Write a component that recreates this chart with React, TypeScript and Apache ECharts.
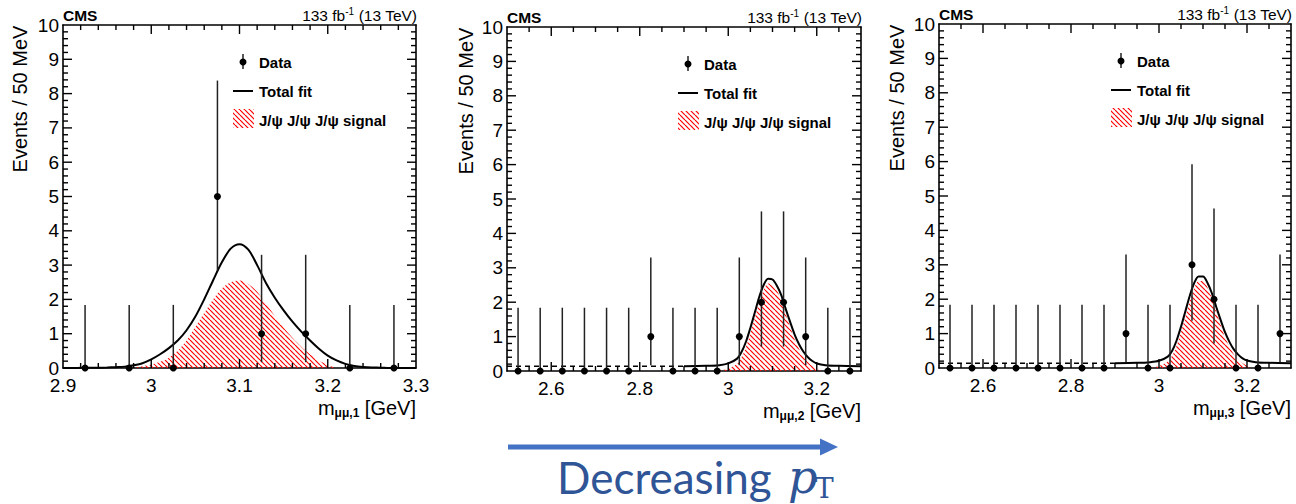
import React, { useEffect, useRef } from "react";
import * as echarts from "echarts";

const FONT = "'Liberation Sans', Arial, Helvetica, sans-serif";

// ---------- Panel 1 (m_{μμ,1}) ----------
const bins1 = [2.925, 2.975, 3.025, 3.075, 3.125, 3.175, 3.225, 3.275];
const counts1 = [0, 0, 0, 5, 1, 1, 0, 0];
const errLo1 = [0, 0, 0, 2.84, 0.17, 0.17, 0, 0];
const errHi1 = [1.84, 1.84, 1.84, 8.38, 3.3, 3.3, 1.84, 1.84];
const fitX1 = [2.9, 2.91, 2.92, 2.93, 2.94, 2.95, 2.96, 2.97, 2.98, 2.99, 3.0, 3.01, 3.02, 3.03, 3.04, 3.05, 3.06, 3.07, 3.08, 3.09, 3.1, 3.11, 3.12, 3.13, 3.14, 3.15, 3.16, 3.17, 3.18, 3.19, 3.2, 3.21, 3.22, 3.23, 3.24, 3.25, 3.26, 3.27, 3.3];
const fitY1 = [0, 0, 0.005, 0.01, 0.01, 0.015, 0.025, 0.04, 0.08, 0.14, 0.25, 0.4, 0.58, 0.8, 1.1, 1.5, 2.0, 2.55, 3.08, 3.48, 3.61, 3.45, 3.0, 2.48, 2.05, 1.68, 1.35, 1.06, 0.8, 0.56, 0.36, 0.22, 0.12, 0.06, 0.03, 0.015, 0.01, 0, 0];
const sigX1 = [2.98, 2.99, 3.0, 3.01, 3.02, 3.03, 3.04, 3.05, 3.06, 3.07, 3.08, 3.09, 3.1, 3.11, 3.12, 3.13, 3.14, 3.15, 3.16, 3.17, 3.18, 3.19, 3.2, 3.21];
const sigY1 = [0, 0.05, 0.1, 0.18, 0.3, 0.5, 0.8, 1.2, 1.6, 2.0, 2.32, 2.5, 2.55, 2.45, 2.22, 1.88, 1.52, 1.18, 0.88, 0.62, 0.4, 0.22, 0.09, 0];

// ---------- Panel 2 (m_{μμ,2}) ----------
const bins23 = [2.525, 2.575, 2.625, 2.675, 2.725, 2.775, 2.825, 2.875, 2.925, 2.975, 3.025, 3.075, 3.125, 3.175, 3.225, 3.275];
const counts2 = [0, 0, 0, 0, 0, 0, 1, 0, 0, 0, 1, 2, 2, 1, 0, 0];
const errLo2 = [0, 0, 0, 0, 0, 0, 0.17, 0, 0, 0, 0.17, 0.71, 0.71, 0.17, 0, 0];
const errHi2 = [1.84, 1.84, 1.84, 1.84, 1.84, 1.84, 3.3, 1.84, 1.84, 1.84, 3.3, 4.64, 4.64, 3.3, 1.84, 1.84];
const fitX23 = [2.9, 2.95, 2.98, 3.0, 3.02, 3.03, 3.04, 3.05, 3.06, 3.07, 3.08, 3.09, 3.1, 3.11, 3.12, 3.13, 3.14, 3.15, 3.16, 3.17, 3.18, 3.19, 3.2, 3.22, 3.25, 3.3];
const fitY2 = [0.14, 0.15, 0.17, 0.22, 0.36, 0.55, 0.85, 1.25, 1.7, 2.15, 2.5, 2.68, 2.66, 2.48, 2.2, 1.8, 1.42, 1.06, 0.78, 0.56, 0.4, 0.29, 0.22, 0.17, 0.15, 0.14];
const sigX23 = [2.98, 3.0, 3.02, 3.03, 3.04, 3.05, 3.06, 3.07, 3.08, 3.09, 3.1, 3.11, 3.12, 3.13, 3.14, 3.15, 3.16, 3.17, 3.18, 3.19, 3.2, 3.21];
const sigY2 = [0, 0.07, 0.21, 0.4, 0.7, 1.1, 1.55, 2.0, 2.35, 2.54, 2.52, 2.34, 2.06, 1.66, 1.28, 0.92, 0.64, 0.42, 0.26, 0.15, 0.08, 0];
const bkgX = [2.5, 2.9];
const bkgY2 = [0.14, 0.14];

// ---------- Panel 3 (m_{μμ,3}) ----------
const counts3 = [0, 0, 0, 0, 0, 0, 0, 0, 1, 0, 0, 3, 2, 0, 0, 1];
const errLo3 = [0, 0, 0, 0, 0, 0, 0, 0, 0.17, 0, 0, 1.37, 0.71, 0, 0, 0.17];
const errHi3 = [1.84, 1.84, 1.84, 1.84, 1.84, 1.84, 1.84, 1.84, 3.3, 1.84, 1.84, 5.92, 4.64, 1.84, 1.84, 3.3];
const fitY3 = [0.14, 0.15, 0.17, 0.21, 0.33, 0.5, 0.8, 1.2, 1.65, 2.1, 2.47, 2.66, 2.66, 2.48, 2.18, 1.78, 1.4, 1.04, 0.76, 0.54, 0.39, 0.28, 0.22, 0.17, 0.15, 0.14];
const sigY3 = [0, 0.06, 0.19, 0.36, 0.65, 1.05, 1.5, 1.95, 2.32, 2.53, 2.53, 2.35, 2.04, 1.64, 1.26, 0.9, 0.62, 0.4, 0.25, 0.14, 0.07, 0];
const bkgY3 = [0.14, 0.14];

// tick values
const xMajor1 = [2.9, 3.0, 3.1, 3.2, 3.3];
const xMajor23 = [2.6, 2.8, 3.0, 3.2];
const yMajor = [0, 1, 2, 3, 4, 5, 6, 7, 8, 9, 10];

const legendLabels = ["Data", "Total fit", "J/ψ J/ψ J/ψ signal"];

const fmt = (v: number) => String(Math.round(v * 10) / 10);

function makeHatch() {
  const s = 5;
  const c = document.createElement("canvas");
  c.width = s;
  c.height = s;
  const ctx = c.getContext("2d")!;
  ctx.strokeStyle = "#ff0000";
  ctx.lineWidth = 1.2;
  for (const k of [-s, 0, s]) {
    ctx.beginPath();
    ctx.moveTo(k, 0);
    ctx.lineTo(k + s, s);
    ctx.stroke();
  }
  return { image: c, repeat: "repeat", imageWidth: s, imageHeight: s } as any;
}

export default function App() {
  const ref = useRef<HTMLDivElement>(null);

  useEffect(() => {
    if (!ref.current) return;
    const chart = echarts.init(ref.current, null, { renderer: "svg" });
    const hatch = makeHatch();

    const panels = [
      { left: 63, top: 25, width: 353, height: 343, min: 2.9, max: 3.3, major: xMajor1, minorStep: 0.02, bins: bins1, counts: counts1, lo: errLo1, hi: errHi1, fitX: fitX1, fitY: fitY1, sigX: sigX1, sigY: sigY1, bkgY: null as number[] | null, sub: "1", titleX: 20, legX: 243 },
      { left: 507, top: 27, width: 354, height: 344, min: 2.5, max: 3.3, major: xMajor23, minorStep: 0.05, bins: bins23, counts: counts2, lo: errLo2, hi: errHi2, fitX: fitX23, fitY: fitY2, sigX: sigX23, sigY: sigY2, bkgY: bkgY2, sub: "2", titleX: 466, legX: 688 },
      { left: 939, top: 24, width: 352, height: 344, min: 2.5, max: 3.3, major: xMajor23, minorStep: 0.05, bins: bins23, counts: counts3, lo: errLo3, hi: errHi3, fitX: fitX23, fitY: fitY3, sigX: sigX23, sigY: sigY3, bkgY: bkgY3, sub: "3", titleX: 897, legX: 1121 },
    ];

    const axisLine = { show: true, onZero: false, lineStyle: { color: "#000", width: 1.6 } };
    const labelStyle = { color: "#000", fontSize: 19, fontFamily: FONT };

    const grids: any[] = [];
    const xAxes: any[] = [];
    const yAxes: any[] = [];
    const series: any[] = [];
    const graphics: any[] = [];

    panels.forEach((p, i) => {
      grids.push({ left: p.left, top: p.top, width: p.width, height: p.height, containLabel: false });
      const mainX = xAxes.length;
      for (const pos of ["bottom", "top"]) {
        xAxes.push({
          gridIndex: i, type: "value", position: pos, min: p.min, max: p.max, interval: 0.1,
          axisLine, splitLine: { show: false }, axisTick: { show: false }, minorTick: { show: false },
          axisLabel: { show: pos === "bottom", ...labelStyle, margin: 8, customValues: p.major, formatter: fmt },
        });
      }
      const mainY = yAxes.length;
      for (const pos of ["left", "right"]) {
        yAxes.push({
          gridIndex: i, type: "value", position: pos, min: 0, max: 10, interval: 1,
          axisLine, splitLine: { show: false }, axisTick: { show: false }, minorTick: { show: false },
          axisLabel: { show: pos === "left", ...labelStyle, margin: 4, showMinLabel: true, showMaxLabel: true },
        });
      }

      // inside ticks on all four sides (ROOT style): [x, y, dx, dy]
      const tickData: number[][] = [];
      const nMinor = Math.round((p.max - p.min) / p.minorStep);
      for (let k = 1; k < nMinor; k++) {
        const x = p.min + k * p.minorStep;
        const len = p.major.some((m) => Math.abs(m - x) < 1e-6) ? 9 : 5;
        tickData.push([x, 0, 0, -len]);
        tickData.push([x, 10, 0, len]);
      }
      yMajor.forEach((y, k) => {
        if (k > 0 && k < yMajor.length - 1) {
          tickData.push([p.min, y, 9, 0]);
          tickData.push([p.max, y, -9, 0]);
        }
        if (k < yMajor.length - 1) {
          for (let m = 1; m < 5; m++) {
            tickData.push([p.min, y + m * 0.2, 5, 0]);
            tickData.push([p.max, y + m * 0.2, -5, 0]);
          }
        }
      });
      series.push({
        type: "custom", xAxisIndex: mainX, yAxisIndex: mainY, z: 6, clip: false, silent: true,
        data: tickData.map((t) => [t[0], t[1], t[2], t[3]]),
        renderItem: (_params: any, api: any) => {
          const c = api.coord([api.value(0), api.value(1)]);
          const dx = Number(api.value(2)) || 0;
          const dy = Number(api.value(3)) || 0;
          return {
            type: "group",
            children: [
              {
                type: "line",
                shape: { x1: c[0], y1: c[1], x2: c[0] + dx, y2: c[1] + dy },
                style: { stroke: "#000", lineWidth: 1.4 },
              },
            ],
          };
        },
      });

      series.push({
        type: "line", xAxisIndex: mainX, yAxisIndex: mainY, symbol: "none", smooth: 0.3, z: 2,
        data: p.sigX.map((x, k) => [x, p.sigY[k]]),
        lineStyle: { width: 0 },
        areaStyle: { color: hatch, opacity: 1 },
      });
      if (p.bkgY) {
        series.push({
          type: "line", xAxisIndex: mainX, yAxisIndex: mainY, symbol: "none", z: 3,
          data: bkgX.map((x, k) => [x, p.bkgY![k]]),
          lineStyle: { color: "#000", width: 1.6, type: [5, 4] },
        });
      }
      series.push({
        type: "line", xAxisIndex: mainX, yAxisIndex: mainY, symbol: "none", smooth: 0.3, z: 3,
        data: p.fitX.map((x, k) => [x, p.fitY[k]]),
        lineStyle: { color: "#000", width: 2 },
      });
      series.push({
        type: "custom", xAxisIndex: mainX, yAxisIndex: mainY, z: 7, clip: false,
        dimensions: ["x", "y", "lo", "hi"],
        encode: { x: 0, y: 1 },
        data: p.bins.map((x, k) => [x, p.counts[k], p.lo[k], p.hi[k]]),
        renderItem: (_params: any, api: any) => {
          const x = api.value(0);
          const c = api.coord([x, api.value(1)]);
          const l = api.coord([x, api.value(2)]);
          const h = api.coord([x, api.value(3)]);
          return {
            type: "group",
            children: [
              { type: "line", shape: { x1: c[0], y1: l[1], x2: c[0], y2: h[1] }, style: { stroke: "#222", lineWidth: 1.5 } },
              { type: "circle", shape: { cx: c[0], cy: c[1], r: 3.5 }, style: { fill: "#000" } },
            ],
          };
        },
      });

      const right = p.left + p.width;
      graphics.push({ type: "text", x: p.left, y: p.top - 9.5, style: { text: "CMS", font: `bold 15.5px ${FONT}`, fill: "#000", verticalAlign: "middle", align: "left" } });
      graphics.push({
        type: "text", x: right + 1, y: p.top - 9.5,
        style: {
          text: "{a|133 fb}{s|-1}{a| (13 TeV)}", align: "right", verticalAlign: "middle", fill: "#000",
          rich: {
            a: { fontSize: 15.5, fontFamily: FONT, fill: "#000", lineHeight: 18 },
            s: { fontSize: 10, fontFamily: FONT, fill: "#000", verticalAlign: "top", lineHeight: 11 },
          },
        },
      });
      graphics.push({
        type: "text", x: p.titleX, y: p.top + 74, rotation: Math.PI / 2,
        style: { text: "Events / 50 MeV", font: `20px ${FONT}`, fill: "#000", align: "center", verticalAlign: "middle" },
      });
      graphics.push({
        type: "text", x: right, y: p.top + p.height + 40,
        style: {
          text: `{a|m}{b|μμ,${p.sub}}{a| [GeV]}`, align: "right", verticalAlign: "middle", fill: "#000",
          rich: {
            a: { fontSize: 20, fontFamily: FONT, fill: "#000", lineHeight: 22 },
            b: { fontSize: 12, fontWeight: "bold", fontFamily: FONT, fill: "#000", verticalAlign: "bottom", lineHeight: 12 },
          },
        },
      });
      const lx = p.legX;
      const ly = p.top + 37;
      graphics.push({ type: "line", shape: { x1: lx, y1: ly - 8, x2: lx, y2: ly + 7 }, style: { stroke: "#222", lineWidth: 1.5 } });
      graphics.push({ type: "circle", shape: { cx: lx, cy: ly, r: 3.5 }, style: { fill: "#000" } });
      graphics.push({ type: "line", shape: { x1: lx - 10, y1: ly + 29, x2: lx + 10, y2: ly + 29 }, style: { stroke: "#000", lineWidth: 2 } });
      graphics.push({ type: "rect", shape: { x: lx - 10, y: ly + 47, width: 21, height: 19 }, style: { fill: hatch } });
      [ly, ly + 29, ly + 58].forEach((ty, k) => {
        graphics.push({ type: "text", x: lx + 16, y: ty, style: { text: legendLabels[k], font: `bold 15px ${FONT}`, fill: "#000", align: "left", verticalAlign: "middle" } });
      });
    });

    // bottom annotation
    graphics.push({ type: "line", shape: { x1: 508, y1: 447, x2: 824, y2: 447 }, style: { stroke: "#4472C4", lineWidth: 5 } });
    graphics.push({ type: "polygon", shape: { points: [[820, 438.5], [838, 447], [820, 455.5]] }, style: { fill: "#4472C4" } });
    graphics.push({ type: "text", x: 557, y: 477, style: { text: "Decreasing", font: `44px Lato, 'Open Sans', sans-serif`, fill: "#2F5597", align: "left", verticalAlign: "middle" } });
    graphics.push({ type: "text", x: 788, y: 477, style: { text: "p", font: `italic 46px 'DejaVu Serif', 'Liberation Serif', serif`, fill: "#2F5597", align: "left", verticalAlign: "middle" } });
    graphics.push({ type: "text", x: 815, y: 488, style: { text: "T", font: `28px 'DejaVu Serif', 'Liberation Serif', serif`, fill: "#2F5597", align: "left", verticalAlign: "middle" } });

    chart.setOption({
      animation: false,
      backgroundColor: "#fff",
      grid: grids,
      xAxis: xAxes,
      yAxis: yAxes,
      series,
      graphic: { elements: graphics },
    });

    return () => chart.dispose();
  }, []);

  return <div ref={ref} style={{ position: "fixed", left: 0, top: 0, width: 1296, height: 504 }} />;
}
